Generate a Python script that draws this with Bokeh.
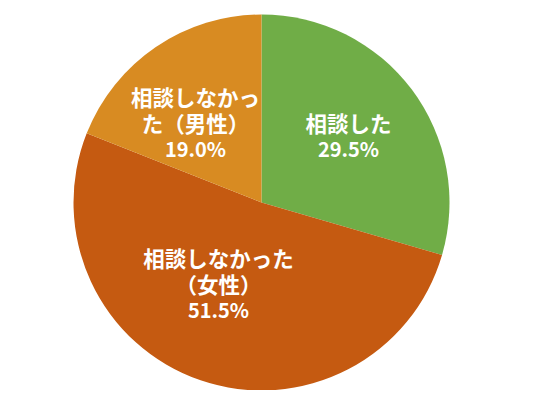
import math
from bokeh.plotting import figure
from bokeh.models import ColumnDataSource, Range1d
from bokeh.core.properties import value
from bokeh.embed import file_html
from bokeh.resources import INLINE

categories = ["相談した", "相談しなかった（女性）", "相談しなかった（男性）"]
percents = [29.5, 51.5, 19.0]
colors = ["#70AD47", "#C55A11", "#D88B22"]
label_lines = [["相談した", "29.5%"],
               ["相談しなかった", "（女性）", "51.5%"],
               ["相談しなかっ", "た（男性）", "19.0%"]]

W, H = 520, 390
cx, cy = 261, H - 202
R = 188

starts, ends = [], []
a = math.pi / 2
for v in percents:
    starts.append(a)
    a -= v / 100 * 2 * math.pi
    ends.append(a)

src = ColumnDataSource(dict(x=[cx] * 3, y=[cy] * 3, start=starts, end=ends, color=colors, cat=categories))

p = figure(width=W, height=H, output_backend="svg", toolbar_location=None,
           x_range=Range1d(0, W), y_range=Range1d(0, H), min_border=0)
p.axis.visible = False
p.grid.visible = False
p.outline_line_color = None
p.background_fill_color = "white"

p.wedge(x="x", y="y", radius=R, start_angle="start", end_angle="end", direction="clock",
        fill_color="color", line_color="white", line_width=0, source=src)

# label block centers (offsets from pie center, pixels)
label_offsets = [(87, 67), (-43, -81), (-66, 80)]
line_h = 26
tx, ty, tt, ts = [], [], [], []
for (dx, dy), lines in zip(label_offsets, label_lines):
    n = len(lines)
    for i, t in enumerate(lines):
        tx.append(cx + dx)
        ty.append(cy + dy - (i - (n - 1) / 2) * line_h)
        tt.append(t)
        ts.append("20px" if t.endswith("%") else "21.5px")

p.text(x=tx, y=ty, text=tt, text_align="center", text_baseline="middle",
       text_color="white", text_font=value("Noto Sans CJK JP"), text_font_style="bold",
       text_font_size=ts)

open("out.html", "w").write(file_html(p, INLINE))
